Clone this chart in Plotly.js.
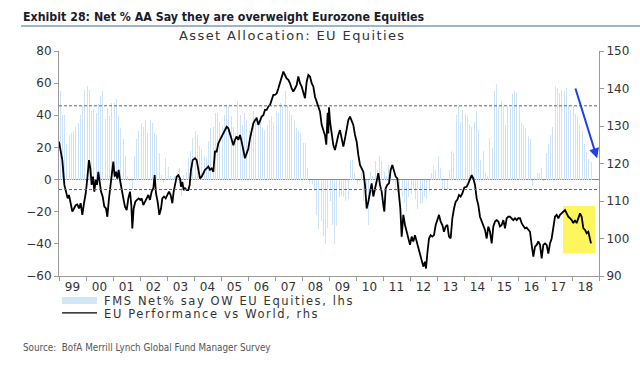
<!DOCTYPE html>
<html>
<head>
<meta charset="utf-8">
<script src="https://cdn.plot.ly/plotly-3.0.1.min.js"></script>
<style>html,body{margin:0;padding:0;background:#fff;}#chart{width:640px;height:368px;}</style>
</head>
<body>
<div id="chart"></div>
<script>
// FMS Net % say overweight EU equities (monthly, lhs)
const fms1999 = [55, 40, 40, 22, 28, 29, 30, 33, 35, 40, 46, 56];
const fms2000 = [58, 56, 42.5, 43.6, 41.5, 47, 52, 55, 38, 44.6, 39.4, 47.7];
const fms2001 = [47.7, 50, 39.4, 32, 25, 14.5, 2, -1, -6, 14.5, 25, 30];
const fms2002 = [35, 33, 37, 29, 37, 35, 29, 28, 16.6, 3, -2, 13.5];
const fms2003 = [8, 2, 1, 2, 4, 7, -10, 3, 5, 13.5, 17.6, 26];
const fms2004 = [30, 28, 21, 19, 14.5, 13.5, 24, 32, 33, 41.5, 41.5, 36];
const fms2005 = [34, 40, 45.6, 45.6, 39.4, 33, 29, 48.8, 40, 34, 41.5, 37];
const fms2006 = [31, 32, 42.5, 39.4, 37, 37, 32, 31, 34, 37, 39.4, 36];
const fms2007 = [42.5, 41.5, 47.7, 45.6, 55, 46.7, 42.5, 40, 37, 32, 30, 29];
const fms2008 = [23, 23, 7, -3, -3, -7, -22, -31, -26, -35, -40, -30];
const fms2009 = [-13.5, -28, -40, -29, -11, -10, -11, -13.5, -12, 11.4, 12.4, 4];
const fms2010 = [-3, -1, 5, -13.5, -8, -28, 5, 2, 11.4, 6, 14.5, 11.4];
const fms2011 = [5, 2, 9, 4, -1, -7, -8, -9, -11, -14.5, -20, -11];
const fms2012 = [-9, -5, -12, -18, -15.5, -14.5, -11, -12, -7, 4, 9, 6];
const fms2013 = [14.5, 7, -6, -6, -7, 6, 17.6, 16.6, 40, 45.6, 36, 43.6];
const fms2014 = [40.5, 39.4, 34, 33, 36, 42.5, 31, 12.4, 17.6, 4, 2, 26];
const fms2015 = [19.7, 55, 59.5, 45.6, 48.8, 45.6, 34, 45.6, 44.6, 53, 55, 54];
const fms2016 = [45.6, 35, 34, 32, 27, 25, -4, 1, 4, 4, 7, -1];
const fms2017 = [16.6, 22, 28, 33, 58, 57, 54, 56, 55, 57, 46.7, 43.6];
const fms2018 = [45.6, 40.5, 39.4, 34, 30, 22, 17, 13, 11];

// EU performance vs World (rhs), decimal year / index level
const perfX = [
 1999.000,1999.074,1999.123,1999.198,1999.259,1999.321,1999.370,1999.432,1999.494,1999.556,1999.617,1999.679,1999.741,1999.802,1999.864,1999.926,1999.988,
 2000.049,2000.111,2000.160,2000.210,2000.259,2000.309,2000.358,2000.407,2000.457,2000.506,2000.556,2000.617,2000.679,2000.741,2000.790,2000.852,2000.901,2000.951,
 2001.012,2001.062,2001.111,2001.160,2001.210,2001.259,2001.321,2001.383,2001.444,2001.506,2001.568,2001.630,2001.679,2001.716,2001.765,2001.827,2001.889,2001.951,
 2002.012,2002.062,2002.123,2002.185,2002.247,2002.309,2002.370,2002.432,2002.494,2002.543,2002.593,2002.654,2002.716,2002.778,2002.827,2002.889,2002.951,
 2003.012,2003.074,2003.136,2003.198,2003.247,2003.296,2003.358,2003.420,2003.481,2003.519,2003.568,2003.617,2003.667,2003.728,2003.790,2003.840,2003.889,2003.951,
 2004.037,2004.099,2004.161,2004.222,2004.284,2004.346,2004.408,2004.469,2004.531,2004.593,2004.654,2004.716,2004.778,2004.840,2004.901,2004.963,
 2005.025,2005.087,2005.148,2005.210,2005.272,2005.333,2005.395,2005.457,2005.519,2005.580,2005.642,2005.704,2005.765,2005.827,2005.889,2005.951,
 2006.012,2006.074,2006.136,2006.198,2006.259,2006.321,2006.383,2006.444,2006.506,2006.568,2006.630,2006.691,2006.753,2006.815,2006.877,2006.938,
 2007.000,2007.062,2007.123,2007.185,2007.247,2007.309,2007.370,2007.432,2007.494,2007.556,2007.617,2007.679,2007.741,2007.802,2007.864,2007.926,2007.988,
 2008.049,2008.111,2008.173,2008.235,2008.296,2008.358,2008.420,2008.481,2008.543,2008.605,2008.667,2008.728,2008.790,2008.852,2008.900,2008.950,2008.975,2009.000,
 2009.037,2009.099,2009.160,2009.222,2009.284,2009.346,2009.407,2009.469,2009.531,2009.593,2009.654,2009.716,2009.778,2009.840,2009.901,2009.963,
 2010.025,2010.086,2010.148,2010.210,2010.272,2010.333,2010.395,2010.457,2010.519,2010.580,2010.642,2010.704,2010.765,2010.827,2010.889,2010.951,
 2011.012,2011.049,2011.099,2011.160,2011.222,2011.284,2011.346,2011.407,2011.469,2011.531,2011.593,2011.642,2011.691,2011.753,2011.815,2011.877,2011.938,
 2012.000,2012.062,2012.123,2012.185,2012.247,2012.309,2012.370,2012.432,2012.494,2012.556,2012.593,2012.642,2012.704,2012.765,2012.827,2012.889,2012.951,
 2013.012,2013.074,2013.136,2013.198,2013.259,2013.321,2013.383,2013.444,2013.506,2013.568,2013.630,2013.691,2013.753,2013.815,2013.877,2013.938,
 2014.012,2014.099,2014.160,2014.222,2014.284,2014.346,2014.407,2014.469,2014.531,2014.593,2014.654,2014.716,2014.778,2014.840,2014.901,2014.963,
 2015.025,2015.086,2015.148,2015.210,2015.272,2015.333,2015.395,2015.457,2015.519,2015.580,2015.642,2015.704,2015.765,2015.827,2015.889,2015.951,
 2016.012,2016.074,2016.136,2016.198,2016.259,2016.321,2016.383,2016.444,2016.506,2016.568,2016.630,2016.691,2016.753,2016.815,2016.877,2016.938,
 2017.000,2017.062,2017.123,2017.185,2017.247,2017.309,2017.370,2017.432,2017.494,2017.556,2017.617,2017.679,2017.741,2017.802,2017.864,2017.926,2017.988,
 2018.049,2018.111,2018.173,2018.235,2018.296,2018.358,2018.420,2018.481,2018.543,2018.605,2018.667,2018.704
];
const perfY = [
 125.8,122.3,120.9,114.3,112.5,110.7,111.6,108.9,107.2,108.0,108.9,109.1,108.0,109.4,106.3,109.4,112.0,
 116.0,120.9,118.7,114.3,116.5,112.5,115.6,114.3,117.8,114.3,112.5,111.2,108.5,108.0,105.8,110.7,114.3,117.8,
 120.5,116.5,117.8,116.0,118.3,115.6,112.5,110.7,108.5,107.6,110.7,112.5,108.9,102.7,108.0,109.8,110.3,110.7,
 110.3,110.7,108.9,109.8,110.7,111.6,110.3,112.5,113.4,116.9,112.0,109.8,106.3,108.0,110.7,111.2,110.7,
 111.6,112.5,111.6,109.4,112.5,114.3,116.5,116.9,116.0,113.8,115.1,112.9,113.4,112.9,112.9,114.3,118.3,120.9,
 121.4,120.9,118.3,116.0,116.5,117.4,118.3,118.7,119.2,118.3,118.7,117.8,123.2,123.2,125.4,126.3,
 127.2,128.0,128.9,129.8,129.4,128.0,126.3,124.9,126.3,127.2,126.3,127.6,125.8,123.2,121.4,122.7,
 124.0,126.7,128.9,130.7,131.6,132.0,130.3,131.2,132.5,132.9,134.3,134.3,135.2,135.6,136.9,138.3,
 138.3,138.7,140.0,141.4,143.2,144.5,143.6,142.7,142.3,141.4,140.0,139.2,140.0,140.9,143.2,141.4,140.5,
 139.2,137.4,141.8,143.6,143.2,141.4,140.5,137.8,136.5,135.2,133.8,130.3,128.5,127.5,125.0,133.5,128.0,135.0,
 131.2,127.6,124.9,123.6,125.8,127.6,128.9,126.7,124.5,126.7,129.4,131.6,132.5,131.6,130.3,127.6,
 125.8,122.3,119.6,118.7,117.8,114.3,108.0,109.8,112.5,114.7,111.2,113.4,116.0,117.4,114.3,112.5,
 108.9,107.2,113.4,114.3,114.7,118.3,119.6,117.8,116.5,116.0,111.6,108.0,100.5,106.3,103.6,101.8,99.6,
 98.3,100.5,99.2,100.9,99.2,97.4,96.5,94.7,92.5,93.8,92.0,96.0,100.0,100.9,100.5,100.9,103.6,
 104.9,106.3,104.5,103.6,101.8,103.2,103.6,100.5,100.0,105.4,108.0,109.8,110.3,111.6,111.2,112.0,
 113.6,113.8,114.7,116.0,116.9,116.0,114.3,110.7,108.9,105.8,104.5,103.6,102.3,100.0,103.2,101.8,
 98.7,103.2,104.5,104.9,104.5,103.2,103.6,104.9,102.7,105.4,105.8,105.8,105.4,104.9,105.4,104.9,
 105.4,105.4,104.1,103.2,102.7,102.9,102.3,101.8,98.3,95.2,97.8,98.3,99.2,98.3,94.7,98.3,
 98.7,98.3,96.0,98.7,100.0,103.6,105.8,106.3,105.4,106.3,106.7,107.2,107.6,106.7,105.8,105.4,104.9,
 104.1,104.9,104.1,105.4,106.7,105.8,102.7,102.3,101.4,101.8,100.0,98.7
];

const yearLabels = ['99','00','01','02','03','04','05','06','07','08','09','10','11','12','13','14','15','16','17','18'];
const firstYear = 1999;
const histUpper = 45.9;   // dashed reference lines (lhs)
const histLower = -6.2;

const titleText = 'Exhibit 28: Net % AA Say they are overweight Eurozone Equities';
const subtitleText = 'Asset Allocation: EU Equities';
const legendBars = 'FMS Net% say OW EU Equities, lhs';
const legendLine = 'EU Performance vs World, rhs';
const sourceText = 'Source:  BofA Merrill Lynch Global Fund Manager Survey';

const fms = [].concat(fms1999, fms2000, fms2001, fms2002, fms2003, fms2004, fms2005, fms2006, fms2007, fms2008,
  fms2009, fms2010, fms2011, fms2012, fms2013, fms2014, fms2015, fms2016, fms2017, fms2018);
const fmsX = fms.map((v, i) => firstYear + (i + 0.5) / 12);
const labelPos = yearLabels.map((l, i) => firstYear + i + 0.5);
const yearBounds = yearLabels.map((l, i) => firstYear + i).concat([firstYear + yearLabels.length]);

const sans = 'DejaVu Sans, Arial, sans-serif';
const narrow = 'Liberation Sans Narrow, DejaVu Sans Condensed, Arial Narrow, sans-serif';
const axisGrey = '#9a9a9a';

const traces = [
  {type: 'bar', x: fmsX, y: fms, yaxis: 'y', width: 0.55 / 12,
   marker: {color: '#cde3f9', line: {width: 0}}, hoverinfo: 'skip', showlegend: false},
  {type: 'scatter', mode: 'lines', x: perfX, y: perfY, yaxis: 'y2',
   line: {color: '#000', width: 1.8}, hoverinfo: 'skip', showlegend: false}
];

const layout = {
  width: 640, height: 368,
  margin: {l: 59, r: 41, t: 51, b: 92, pad: 0},
  paper_bgcolor: '#fff', plot_bgcolor: '#fff',
  showlegend: false,
  bargap: 0,
  xaxis: {
    range: [firstYear, firstYear + yearLabels.length],
    tickmode: 'array', tickvals: labelPos, ticktext: yearLabels, ticks: '',
    tickfont: {family: sans, size: 12, color: '#333'},
    showline: true, linecolor: axisGrey, linewidth: 1, showgrid: false, zeroline: false,
    minor: {tickmode: 'array', tickvals: yearBounds, ticks: 'outside', ticklen: 4, tickcolor: axisGrey, showgrid: false}
  },
  yaxis: {
    range: [-60, 80], dtick: 20, tick0: 0, ticks: 'outside', ticklen: 4, tickcolor: axisGrey,
    tickfont: {family: sans, size: 12, color: '#333'},
    showline: true, linecolor: axisGrey, showgrid: false,
    zeroline: true, zerolinecolor: '#8c8c8c', zerolinewidth: 1
  },
  yaxis2: {
    range: [90, 150], dtick: 10, tick0: 90, overlaying: 'y', side: 'right',
    ticks: 'outside', ticklen: 4, tickcolor: axisGrey,
    tickfont: {family: sans, size: 12, color: '#333'},
    showline: true, linecolor: axisGrey, showgrid: false, zeroline: false
  },
  shapes: [
    {type: 'rect', xref: 'x', yref: 'y2', x0: 2017.67, x1: 2018.85, y0: 96.1, y1: 108.7,
     fillcolor: '#fdf65c', line: {width: 0}, layer: 'below'},
    {type: 'line', xref: 'paper', yref: 'y', x0: 0, x1: 1, y0: histUpper, y1: histUpper,
     line: {color: '#666', width: 1, dash: '3px,2px'}},
    {type: 'line', xref: 'paper', yref: 'y', x0: 0, x1: 1, y0: histLower, y1: histLower,
     line: {color: '#666', width: 1, dash: '3px,2px'}},
    {type: 'line', xref: 'paper', yref: 'paper', x0: -0.0704, x1: 1.08, y0: 1.111, y1: 1.111,
     line: {color: '#7d9bc4', width: 1.5}},
    {type: 'rect', xref: 'paper', yref: 'paper', x0: 0.0056, x1: 0.0704, y0: -0.0935, y1: -0.1245,
     fillcolor: '#d2e6fa', line: {width: 0}},
    {type: 'line', xref: 'paper', yref: 'paper', x0: 0.0056, x1: 0.0704, y0: -0.164, y1: -0.164,
     line: {color: '#000', width: 1.2}}
  ],
  annotations: [
    {xref: 'paper', yref: 'paper', x: -0.0704, y: 1.151, xanchor: 'left', yanchor: 'middle', showarrow: false,
     text: '<b>' + titleText + '</b>', font: {family: narrow, size: 12.3, color: '#1b1b2b'}},
    {xref: 'paper', yref: 'paper', x: 0.2185, y: 1.071, xanchor: 'left', yanchor: 'middle', showarrow: false,
     text: subtitleText, font: {family: sans, size: 13, color: '#333'}},
    {xref: 'paper', yref: 'paper', x: 0.0796, y: -0.109, xanchor: 'left', yanchor: 'middle', showarrow: false,
     text: legendBars, font: {family: sans, size: 11.5, color: '#333'}},
    {xref: 'paper', yref: 'paper', x: 0.0796, y: -0.168, xanchor: 'left', yanchor: 'middle', showarrow: false,
     text: legendLine, font: {family: sans, size: 11.5, color: '#333'}},
    {xref: 'paper', yref: 'paper', x: -0.0704, y: -0.316, xanchor: 'left', yanchor: 'middle', showarrow: false,
     text: sourceText, font: {family: narrow, size: 9.8, color: '#555'}},
    {xref: 'x', yref: 'y2', x: 2018.93, y: 121.4, axref: 'x', ayref: 'y2', ax: 2018.11, ay: 140.4,
     showarrow: true, arrowhead: 2, arrowsize: 1, arrowwidth: 2, arrowcolor: '#1a3ff2', text: ''}
  ]
};

Plotly.newPlot('chart', traces, layout, {staticPlot: true, displayModeBar: false}).then(function () {
  // widen a few texts to match the reference's wide lettering, keeping their left edges in place
  const spacing = {};
  spacing[subtitleText] = '1.4px';
  spacing[legendBars] = '1.6px';
  spacing[legendLine] = '1.6px';
  document.querySelectorAll('#chart .annotation-text').forEach(function (t) {
    const s = spacing[t.textContent];
    if (!s) return;
    const before = t.getBoundingClientRect().left;
    t.style.letterSpacing = s;
    const after = t.getBoundingClientRect().left;
    const dx = before - after;
    const prev = t.getAttribute('transform') || '';
    t.setAttribute('transform', (prev + ' translate(' + dx.toFixed(2) + ',0)').trim());
  });
});
</script>
</body>
</html>
